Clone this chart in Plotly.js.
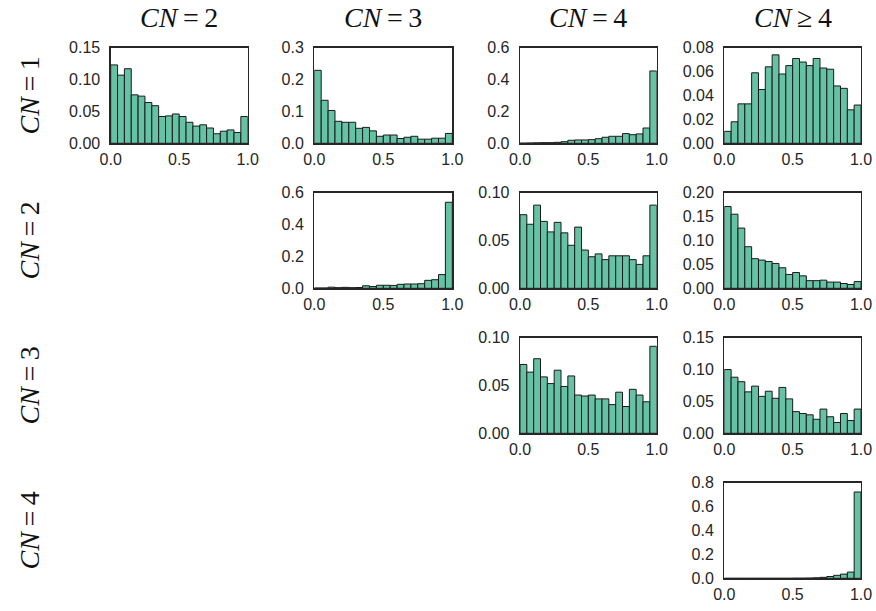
<!DOCTYPE html>
<html>
<head>
<meta charset="utf-8">
<script src="https://cdn.plot.ly/plotly-3.0.1.min.js"></script>
<style>html,body{margin:0;padding:0;background:#fff;}#chart{width:876px;height:611px;}</style>
</head>
<body>
<div id="chart"></div>
<script>
// bin centres of the 20 histogram bins on [0, 1]
const binCenters = [0.025,0.075,0.125,0.175,0.225,0.275,0.325,0.375,0.425,0.475,
                    0.525,0.575,0.625,0.675,0.725,0.775,0.825,0.875,0.925,0.975];

const colLabels = ['<i>CN</i>\u2009=\u20092', '<i>CN</i>\u2009=\u20093', '<i>CN</i>\u2009=\u20094', '<i>CN</i>\u2009\u2265\u20094'];
const rowLabels = ['<i>CN</i>\u2009=\u20091', '<i>CN</i>\u2009=\u20092', '<i>CN</i>\u2009=\u20093', '<i>CN</i>\u2009=\u20094'];
const xTickVals = [0, 0.5, 1];
const xTickText = ['0.0', '0.5', '1.0'];

// row CN=1
const r1c1 = [0.123,0.107,0.117,0.076,0.074,0.064,0.059,0.042,0.043,0.046,0.042,0.033,0.027,0.029,0.024,0.015,0.019,0.021,0.017,0.042];
const r1c2 = [0.229,0.135,0.103,0.069,0.066,0.066,0.047,0.050,0.039,0.022,0.026,0.026,0.015,0.019,0.022,0.013,0.013,0.016,0.016,0.031];
const r1c3 = [0.001,0.002,0.003,0.004,0.004,0.006,0.010,0.019,0.021,0.021,0.023,0.029,0.038,0.044,0.044,0.061,0.054,0.059,0.096,0.454];
const r1c4 = [0.010,0.018,0.033,0.033,0.059,0.045,0.064,0.074,0.058,0.065,0.071,0.068,0.065,0.071,0.063,0.062,0.048,0.046,0.028,0.032];
// row CN=2
const r2c2 = [0.002,0.002,0.007,0.004,0.006,0.004,0.005,0.016,0.011,0.019,0.019,0.018,0.025,0.027,0.027,0.029,0.050,0.054,0.086,0.540];
const r2c3 = [0.077,0.067,0.087,0.070,0.059,0.069,0.058,0.045,0.064,0.040,0.033,0.036,0.030,0.034,0.034,0.034,0.030,0.025,0.034,0.087];
const r2c4 = [0.171,0.155,0.126,0.087,0.062,0.059,0.056,0.052,0.043,0.029,0.033,0.026,0.016,0.016,0.017,0.013,0.013,0.010,0.008,0.014];
// row CN=3
const r3c3 = [0.072,0.064,0.078,0.059,0.052,0.066,0.049,0.060,0.040,0.039,0.040,0.036,0.036,0.030,0.043,0.028,0.046,0.040,0.033,0.091];
const r3c4 = [0.100,0.088,0.081,0.065,0.074,0.058,0.066,0.055,0.072,0.054,0.034,0.031,0.029,0.022,0.038,0.026,0.017,0.031,0.020,0.038];
// row CN=4
const r4c4 = [0.000,0.000,0.000,0.000,0.000,0.000,0.000,0.000,0.000,0.000,0.001,0.001,0.002,0.004,0.008,0.015,0.025,0.035,0.052,0.722];

// panels: [row, col, values, ymax, dtick, format]
const panels = [
  [0,0,r1c1,0.15,0.05,'.2f'],
  [0,1,r1c2,0.3,0.1,'.1f'],
  [0,2,r1c3,0.6,0.2,'.1f'],
  [0,3,r1c4,0.08,0.02,'.2f'],
  [1,1,r2c2,0.6,0.2,'.1f'],
  [1,2,r2c3,0.10,0.05,'.2f'],
  [1,3,r2c4,0.20,0.05,'.2f'],
  [2,2,r3c3,0.10,0.05,'.2f'],
  [2,3,r3c4,0.15,0.05,'.2f'],
  [3,3,r4c4,0.8,0.2,'.1f']
];

const W = 876, H = 611;
const colPx = [[110.7,247.7],[314.3,452.3],[520,656.7],[724.3,861]];
const rowPx = [[47.7,143.3],[192.7,288.3],[337.7,433.3],[482.7,578.3]];

const fontFam = '"Liberation Sans", Arial, sans-serif';
const serif = '"Liberation Serif", "DejaVu Serif", serif';
const ink = '#262626';
const data = [];
const layout = {
  width: W, height: H,
  margin: {l:0, r:0, t:0, b:0},
  paper_bgcolor: '#fff', plot_bgcolor: '#fff',
  showlegend: false, bargap: 0,
  annotations: []
};

panels.forEach((p, i) => {
  const [r, c, vals, ymax, dt, fmt] = p;
  const n = i + 1;
  const xa = 'xaxis' + (n === 1 ? '' : n), ya = 'yaxis' + (n === 1 ? '' : n);
  data.push({
    type: 'bar', x: binCenters, y: vals,
    xaxis: 'x' + (n === 1 ? '' : n), yaxis: 'y' + (n === 1 ? '' : n),
    marker: {color: '#66c2a5', line: {color: '#1a1a1a', width: 1}},
    hoverinfo: 'x+y'
  });
  layout[xa] = {
    domain: [colPx[c][0]/W, colPx[c][1]/W],
    anchor: 'y' + (n === 1 ? '' : n),
    range: [0, 1], tickvals: xTickVals, ticktext: xTickText,
    showline: true, mirror: true, linecolor: ink, linewidth: 1.3,
    showgrid: false, zeroline: false, ticks: '', ticklabelstandoff: 1,
    tickfont: {family: fontFam, size: 16, color: ink}
  };
  layout[ya] = {
    domain: [1 - rowPx[r][1]/H, 1 - rowPx[r][0]/H],
    anchor: 'x' + (n === 1 ? '' : n),
    range: [0, ymax], dtick: dt, tick0: 0, tickformat: fmt,
    showline: true, mirror: true, linecolor: ink, linewidth: 1.3,
    showgrid: false, zeroline: false, ticks: '', ticklabelstandoff: 6,
    tickfont: {family: fontFam, size: 16, color: ink}
  };
});

colLabels.forEach((t, c) => {
  layout.annotations.push({
    text: t, xref: 'paper', yref: 'paper',
    x: (colPx[c][0] + colPx[c][1]) / 2 / W, y: 1 - 18/H,
    xanchor: 'center', yanchor: 'middle', showarrow: false,
    font: {family: serif, size: 28, color: '#111'}
  });
});
rowLabels.forEach((t, r) => {
  layout.annotations.push({
    text: t, xref: 'paper', yref: 'paper',
    x: 29/W, y: 1 - (rowPx[r][0] + rowPx[r][1]) / 2 / H,
    xanchor: 'center', yanchor: 'middle', showarrow: false, textangle: -90,
    font: {family: serif, size: 28, color: '#111'}
  });
});

Plotly.newPlot('chart', data, layout, {displayModeBar: false, staticPlot: true});
</script>
</body>
</html>
